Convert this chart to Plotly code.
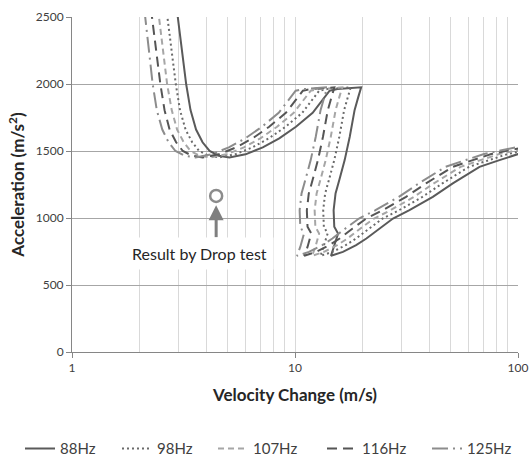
import math
import plotly.graph_objects as go

# Acceleration points shared by every frequency curve (m/s^2)
accel = [2560, 2300, 2000, 1805, 1660, 1565, 1500, 1465, 1452, 1475, 1527, 1594,
         1681, 1785, 1880, 1950, 1962, 1970, 1975, 1900, 1805, 1606, 1432, 1283,
         1183, 1058, 934, 884, 784, 718, 747, 797, 847, 922, 996, 1058, 1158,
         1258, 1382, 1432, 1477, 1505, 1530]

# Velocity change (m/s) for each frequency
vel_88 = [2.95, 3.08, 3.25, 3.40, 3.60, 3.85, 4.14, 4.55, 5.08, 6.0, 7.17, 8.5,
          10.1, 12.0, 13.3, 14.3, 15.5, 18.0, 19.8, 19.2, 18.5, 17.6, 16.7, 15.8,
          15.2, 14.9, 15.0, 15.6, 15.0, 14.5, 16.4, 18.8, 20.9, 23.9, 27.5, 32.6,
          41.5, 51.0, 67.2, 82.6, 100, 120, 142]
vel_98 = [2.65, 2.77, 2.92, 3.05, 3.23, 3.46, 3.72, 4.09, 4.56, 5.39, 6.44, 7.63,
          9.07, 10.78, 11.94, 12.84, 13.92, 16.16, 17.78, 17.24, 16.61, 15.80, 15.0,
          14.19, 13.65, 13.38, 13.47, 14.01, 13.47, 13.02, 14.73, 16.88, 18.77,
          21.46, 24.69, 29.27, 37.27, 45.8, 60.3, 74.2, 89.8, 107.8, 127.5]
vel_107 = [2.43, 2.53, 2.67, 2.80, 2.96, 3.17, 3.40, 3.74, 4.18, 4.93, 5.90, 6.99,
           8.31, 9.87, 10.94, 11.76, 12.75, 14.80, 16.28, 15.79, 15.21, 14.47, 13.73,
           12.99, 12.50, 12.25, 12.34, 12.83, 12.34, 11.93, 13.49, 15.46, 17.19,
           19.66, 22.62, 26.81, 34.13, 41.94, 55.27, 67.93, 82.24, 98.69, 116.8]
vel_116 = [2.26, 2.36, 2.49, 2.60, 2.74, 2.93, 3.14, 3.45, 3.85, 4.55, 5.44, 6.45,
           7.66, 9.10, 10.09, 10.85, 11.76, 13.66, 15.02, 14.57, 14.03, 13.35, 12.67,
           11.99, 11.53, 11.30, 11.38, 11.83, 11.38, 11.0, 12.44, 14.26, 15.86,
           18.13, 20.86, 24.73, 31.48, 38.69, 50.98, 62.66, 75.86, 91.03, 107.7]
vel_125 = [2.11, 2.19, 2.30, 2.40, 2.54, 2.71, 2.91, 3.20, 3.58, 4.22, 5.05, 5.98,
           7.11, 8.45, 9.36, 10.07, 10.91, 12.67, 13.94, 13.52, 13.02, 12.39, 11.76,
           11.12, 10.70, 10.49, 10.56, 10.98, 10.56, 10.21, 11.55, 13.24, 14.71,
           16.83, 19.36, 22.95, 29.22, 35.9, 47.31, 58.15, 70.4, 84.48, 99.97]

labels = ["88Hz", "98Hz", "107Hz", "116Hz", "125Hz"]
velocities = [vel_88, vel_98, vel_107, vel_116, vel_125]
colors = ["#5a5a5a", "#6a6a6a", "#a6a6a6", "#555555", "#8c8c8c"]
dashes = ["solid", "2px,3px", "6px,4px", "10px,6px", "16px,5px,2px,5px"]

# Drop test result and its caption
drop_vel = 4.43
drop_acc = 1165
caption = "Result by Drop test"
caption_vel = 3.73
caption_acc = 737

FONT = "Lato, 'Open Sans', sans-serif"
W, H = 530, 457

# left edge (px) of each legend entry along the bottom row
legend_left_px = [20, 117, 213, 322, 427]
legend_names = ["legend", "legend2", "legend3", "legend4", "legend5"]

fig = go.Figure()
for name, v, c, d, lg in zip(labels, velocities, colors, dashes, legend_names):
    fig.add_trace(go.Scatter(
        x=v, y=accel, mode="lines", name=name, legend=lg,
        line=dict(color=c, width=2, dash=d),
    ))

fig.add_trace(go.Scatter(
    x=[drop_vel], y=[drop_acc], mode="markers", showlegend=False,
    marker=dict(symbol="circle-open", size=12, color="#8c8c8c", line=dict(width=2.5)),
))

# arrow pointing up at the drop-test marker
fig.add_annotation(
    x=math.log10(drop_vel), y=drop_acc - 70, xref="x", yref="y",
    ax=math.log10(drop_vel), ay=drop_acc - 320, axref="x", ayref="y",
    text="", showarrow=True, arrowhead=2, arrowsize=1, arrowwidth=3,
    arrowcolor="#7f7f7f",
)
fig.add_annotation(
    x=math.log10(caption_vel), y=caption_acc, xref="x", yref="y",
    text=caption, showarrow=False, bgcolor="white", borderpad=6,
    font=dict(family=FONT, size=16, color="#262626"),
)

legend_layout = {}
for lg, px in zip(legend_names, legend_left_px):
    legend_layout[lg] = dict(
        orientation="h", xref="container", yref="container",
        x=px / W, xanchor="left", y=0.018, yanchor="middle",
        bgcolor="rgba(0,0,0,0)", itemwidth=30,
        font=dict(family=FONT, size=15, color="#404040"),
    )

fig.update_layout(
    width=W, height=H,
    margin=dict(l=72, r=12, t=17, b=105, autoexpand=False),
    paper_bgcolor="white", plot_bgcolor="white",
    font=dict(family=FONT, size=12, color="#404040"),
    **legend_layout,
)
fig.update_xaxes(
    type="log", range=[0, 2], dtick=1,
    showline=True, linecolor="#868686", linewidth=1,
    ticks="outside", ticklen=5, tickcolor="#868686",
    showgrid=True, gridcolor="#d9d9d9", gridwidth=1,
    minor=dict(showgrid=True, gridcolor="#d9d9d9", dtick="D1", ticks=""),
    zeroline=False,
    title=dict(text="<b>Velocity Change (m/s)</b>", standoff=14,
               font=dict(family=FONT, size=17, color="#262626")),
)
fig.update_yaxes(
    range=[0, 2500], dtick=500,
    showline=True, linecolor="#868686", linewidth=1,
    ticks="outside", ticklen=5, tickcolor="#868686",
    showgrid=True, gridcolor="#a6a6a6", gridwidth=1,
    zeroline=False,
    title=dict(text="<b>Acceleration (m/s<sup>2</sup>)</b>", standoff=6,
               font=dict(family=FONT, size=17, color="#262626")),
)

fig.write_html("out.html")
